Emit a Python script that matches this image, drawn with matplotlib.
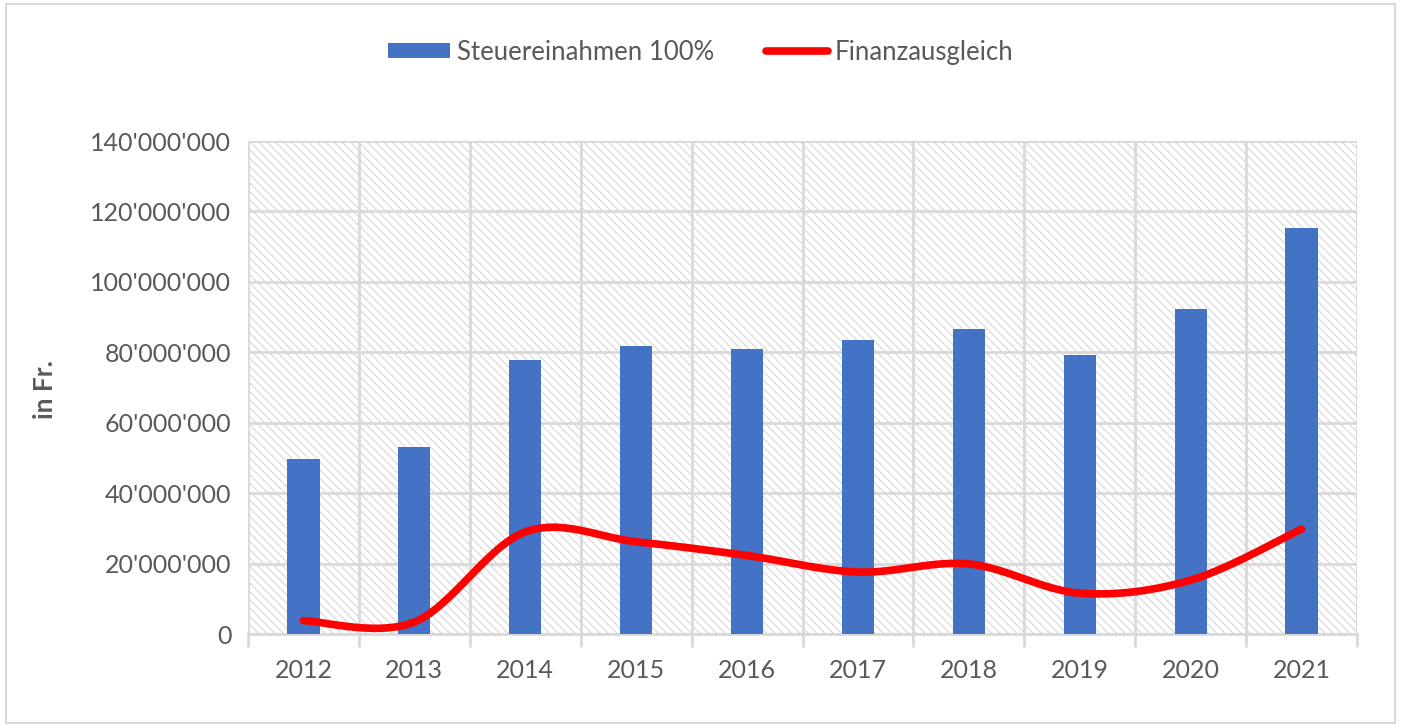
import matplotlib.pyplot as plt
import numpy as np
from matplotlib.patches import Rectangle
from matplotlib.lines import Line2D
from matplotlib.ticker import FuncFormatter

years = ["2012", "2013", "2014", "2015", "2016", "2017", "2018", "2019", "2020", "2021"]
steuereinnahmen = [49.7e6, 53.1e6, 77.8e6, 81.8e6, 81.0e6, 83.5e6, 86.6e6, 79.3e6, 92.3e6, 115.3e6]
finanzausgleich = [3.8e6, 3.4e6, 29.0e6, 26.2e6, 22.3e6, 17.6e6, 19.9e6, 11.6e6, 15.3e6, 29.8e6]

grey_text = "#595959"
grid_col = "#d9d9d9"
blue = "#4472c4"

plt.rcParams['font.family'] = ['Lato', 'DejaVu Sans']
plt.rcParams['hatch.linewidth'] = 0.7


def smooth_line(xs, ys, steps=30):
    # Excel-artige Glaettung: Bezier-Segmente mit Catmull-Rom Kontrollpunkten
    xs = np.asarray(xs, float)
    ys = np.asarray(ys, float)
    px = np.concatenate([[xs[0]], xs, [xs[-1]]])
    py = np.concatenate([[ys[0]], ys, [ys[-1]]])
    out_x, out_y = [], []
    t = np.linspace(0, 1, steps)
    for i in range(1, len(px) - 2):
        p0 = np.array([px[i], py[i]])
        p3 = np.array([px[i + 1], py[i + 1]])
        c1 = p0 + (np.array([px[i + 1], py[i + 1]]) - np.array([px[i - 1], py[i - 1]])) / 6
        c2 = p3 - (np.array([px[i + 2], py[i + 2]]) - p0) / 6
        b = ((1 - t) ** 3)[:, None] * p0 + (3 * (1 - t) ** 2 * t)[:, None] * c1 \
            + (3 * (1 - t) * t ** 2)[:, None] * c2 + (t ** 3)[:, None] * p3
        out_x.extend(b[:, 0])
        out_y.extend(b[:, 1])
    return out_x, out_y


fig = plt.figure(figsize=(14.02, 7.26), dpi=100)
ax = fig.add_axes([0.1769, 0.1267, 0.791, 0.679])

x = np.arange(len(years))

# schraffierter Hintergrund
ax.add_patch(Rectangle((0, 0), 1, 1, transform=ax.transAxes, facecolor="white",
                       edgecolor="#d2d2d2", hatch="\\\\\\\\", lw=0, zorder=0))

ax.bar(x, steuereinnahmen, width=0.29, color=blue, zorder=3)
sx, sy = smooth_line(x, finanzausgleich)
ax.plot(sx, sy, color="#ff0000", lw=5.5, solid_capstyle="round", zorder=4)

ax.set_xlim(-0.5, len(years) - 0.5)
ax.set_ylim(0, 140e6)
ax.set_yticks(np.arange(0, 140e6 + 1, 20e6))
ax.yaxis.set_major_formatter(FuncFormatter(lambda v, p: f"{int(v):,}".replace(",", "'")))

ax.set_xticks(x)
ax.set_xticklabels(years)
ax.set_xticks(np.arange(-0.5, len(years)), minor=True)
ax.tick_params(axis="x", which="major", length=0, pad=18, labelsize=18, labelcolor=grey_text)
ax.tick_params(axis="x", which="minor", length=9, width=2, color=grid_col)
ax.tick_params(axis="y", length=0, pad=12, labelsize=18, labelcolor=grey_text)

ax.grid(True, axis="y", which="major", color=grid_col, lw=2, zorder=1)
ax.grid(True, axis="x", which="minor", color=grid_col, lw=2, zorder=1)
ax.grid(False, axis="x", which="major")
ax.set_axisbelow(True)

for side in ["top", "right", "left"]:
    ax.spines[side].set_visible(False)
ax.spines["bottom"].set_color(grid_col)
ax.spines["bottom"].set_linewidth(2)

fig.text(0.032, 0.463, "in Fr.", rotation=90, ha="center", va="center",
         fontsize=19, fontweight="bold", color=grey_text)

handles = [Rectangle((0, 0), 1, 1, facecolor=blue),
           Line2D([], [], color="#ff0000", lw=5.5, solid_capstyle="round")]
fig.legend(handles, ["Steuereinahmen 100%", "Finanzausgleich"], loc="center",
           bbox_to_anchor=(0.5, 0.928), ncol=2, frameon=False, fontsize=18.5,
           labelcolor=grey_text, handlelength=2.4, handleheight=0.55,
           handletextpad=0.28, columnspacing=2.0)

# Rahmen um das ganze Diagramm
fig.add_artist(Rectangle((0.004, 0.004), 0.991, 0.99, transform=fig.transFigure,
                         fill=False, edgecolor=grid_col, lw=1.5))

fig.savefig("out.png", dpi=100)
